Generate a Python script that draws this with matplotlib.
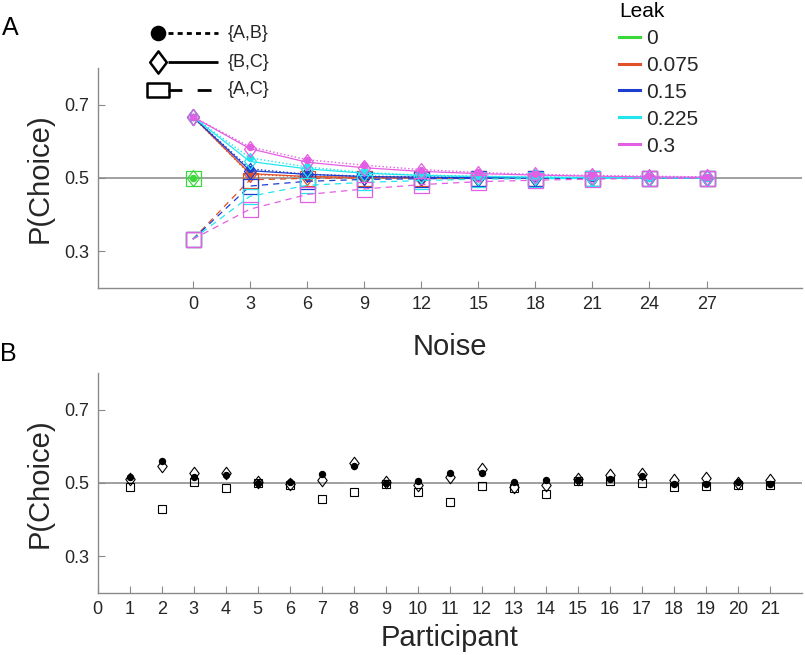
import numpy as np
import matplotlib
matplotlib.use("Agg")
import matplotlib.pyplot as plt
from matplotlib.lines import Line2D
from matplotlib.path import Path

plt.rcParams['font.family'] = ['Liberation Sans', 'DejaVu Sans']

# ---------------- data ----------------
noise = [0, 3, 6, 9, 12, 15, 18, 21, 24, 27]
leaks = ['0', '0.075', '0.15', '0.225', '0.3']
leak_colors = ['#3ad83a', '#e0502a', '#1c3fd0', '#22e6ee', '#e35ee3']

nan = np.nan
# P(choice) per leak (rows) and noise (columns); leak 0 only at noise 0
p_ab = [
    [0.5, nan, nan, nan, nan, nan, nan, nan, nan, nan],
    [0.667, 0.510, 0.503, 0.501, 0.500, 0.500, 0.500, 0.500, 0.500, 0.500],
    [0.667, 0.525, 0.510, 0.505, 0.503, 0.502, 0.501, 0.501, 0.500, 0.500],
    [0.667, 0.555, 0.530, 0.515, 0.508, 0.505, 0.503, 0.502, 0.501, 0.501],
    [0.667, 0.585, 0.550, 0.535, 0.523, 0.515, 0.510, 0.507, 0.505, 0.503],
]
p_bc = [
    [0.5, nan, nan, nan, nan, nan, nan, nan, nan, nan],
    [0.667, 0.512, 0.504, 0.502, 0.501, 0.500, 0.500, 0.500, 0.500, 0.500],
    [0.667, 0.520, 0.510, 0.504, 0.502, 0.501, 0.501, 0.500, 0.500, 0.500],
    [0.667, 0.545, 0.525, 0.513, 0.507, 0.504, 0.502, 0.501, 0.501, 0.500],
    [0.667, 0.580, 0.543, 0.528, 0.518, 0.512, 0.508, 0.505, 0.503, 0.502],
]
p_ac = [
    [0.5, nan, nan, nan, nan, nan, nan, nan, nan, nan],
    [0.333, 0.495, 0.499, 0.500, 0.500, 0.500, 0.500, 0.500, 0.500, 0.500],
    [0.333, 0.478, 0.491, 0.496, 0.498, 0.499, 0.500, 0.500, 0.500, 0.500],
    [0.333, 0.450, 0.480, 0.488, 0.493, 0.497, 0.498, 0.499, 0.500, 0.500],
    [0.333, 0.415, 0.455, 0.470, 0.482, 0.490, 0.494, 0.497, 0.499, 0.500],
]

participants = list(range(1, 22))
b_ab = [0.516, 0.561, 0.517, 0.521, 0.501, 0.503, 0.524, 0.546, 0.500, 0.506,
        0.528, 0.528, 0.502, 0.509, 0.507, 0.512, 0.518, 0.498, 0.498, 0.503, 0.498]
b_bc = [0.510, 0.546, 0.528, 0.528, 0.503, 0.496, 0.507, 0.555, 0.502, 0.495,
        0.515, 0.537, 0.489, 0.495, 0.510, 0.521, 0.525, 0.509, 0.514, 0.500, 0.507]
b_ac = [0.490, 0.430, 0.503, 0.485, 0.500, 0.494, 0.456, 0.476, 0.498, 0.476,
        0.448, 0.492, 0.485, 0.471, 0.505, 0.505, 0.501, 0.489, 0.492, 0.495, 0.495]

# ---------------- styles ----------------
diamond = Path([(0, 1), (0.75, 0), (0, -1), (-0.75, 0), (0, 1)], closed=True)
wide_box = Path([(-1, -0.64), (1, -0.64), (1, 0.64), (-1, 0.64), (-1, -0.64)], closed=True)
grey = '#8a8a8a'
txt = '#262626'


def style_axes(ax):
    for s in ['top', 'right']:
        ax.spines[s].set_visible(False)
    for s in ['left', 'bottom']:
        ax.spines[s].set_color(grey)
        ax.spines[s].set_linewidth(1.0)
    ax.tick_params(direction='in', length=5, width=0.8, color=grey,
                   labelsize=13, labelcolor=txt, pad=6)
    ax.set_ylim(0.2, 0.8)
    ax.set_yticks([0.3, 0.5, 0.7])
    ax.set_yticklabels(['0.3', '0.5', '0.7'])
    ax.axhline(0.5, color='#a0a0a0', lw=1.4, zorder=0)
    ax.set_ylabel('P(Choice)', fontsize=21, color=txt, labelpad=8)


fig = plt.figure(figsize=(8.05, 6.55), dpi=100)
axA = fig.add_axes([0.1214, 0.5603, 0.8745, 0.3359])
axB = fig.add_axes([0.1214, 0.0947, 0.8745, 0.3359])

# ---------------- panel A ----------------
style_axes(axA)
for i, c in enumerate(leak_colors):
    axA.plot(noise, p_ab[i], ls=':', color=c, lw=1.0, marker='o', ms=4.3,
             mfc=c, mec=c, zorder=2 + i)
    axA.plot(noise, p_bc[i], ls='-', color=c, lw=0.9, marker=diamond, ms=11.5,
             mfc='none', mec=c, mew=0.9, zorder=2 + i)
    axA.plot(noise, p_ac[i], ls=(0, (5, 4)), color=c, lw=0.9, marker='s', ms=10.8,
             mfc='none', mec=c, mew=0.9, zorder=2 + i)
axA.set_xlim(-5, 32)
axA.set_xticks(noise)
axA.set_xlabel('Noise', fontsize=21, color=txt, labelpad=14)

# pair key (marker on the left, line style on the right)
key_rows = [(1.159, 'o', 9.4, 'k', (0, (1.8, 1.5)), '{A,B}'),
            (1.027, diamond, 16, 'none', '-', '{B,C}'),
            (0.900, wide_box, 16, 'none', (0, (5, 5.5)), '{A,C}')]
for yy, mk, ms, fc, ls, lab in key_rows:
    axA.plot([0.1, 0.171], [yy, yy], transform=axA.transAxes, color='k', lw=2,
             ls=ls, clip_on=False, solid_capstyle='butt', dash_capstyle='butt')
    axA.plot([0.0857], [yy], transform=axA.transAxes, marker=mk, ms=ms, mfc=fc,
             mec='k', mew=1.8, clip_on=False)
    axA.text(0.185, yy, lab, transform=axA.transAxes, fontsize=13, color=txt,
             va='center', ha='left')

handles = [Line2D([], [], color=c, lw=2.2) for c in leak_colors]
fig.legend(handles, leaks, loc='upper left', bbox_to_anchor=(619 / 805, 653 / 655),
           frameon=False, fontsize=15, title='Leak', title_fontsize=15,
           handlelength=1.0, handletextpad=0.3, labelspacing=0.38,
           borderpad=0, borderaxespad=0, alignment='left', labelcolor=txt)

# ---------------- panel B ----------------
style_axes(axB)
axB.plot(participants, b_ac, ls='none', marker='s', ms=6, mfc='none', mec='k', mew=0.8)
axB.plot(participants, b_bc, ls='none', marker=diamond, ms=9, mfc='none', mec='k', mew=0.8)
axB.plot(participants, b_ab, ls='none', marker='o', ms=4.3, mfc='k', mec='k')
axB.set_xlim(0, 22)
axB.set_xticks(range(0, 22))
axB.set_xlabel('Participant', fontsize=21, color=txt, labelpad=4)

fig.text(0.003, 0.975, 'A', fontsize=18, va='top', ha='left')
fig.text(0.0, 0.478, 'B', fontsize=18, va='top', ha='left')

fig.savefig('out.png', dpi=100)
